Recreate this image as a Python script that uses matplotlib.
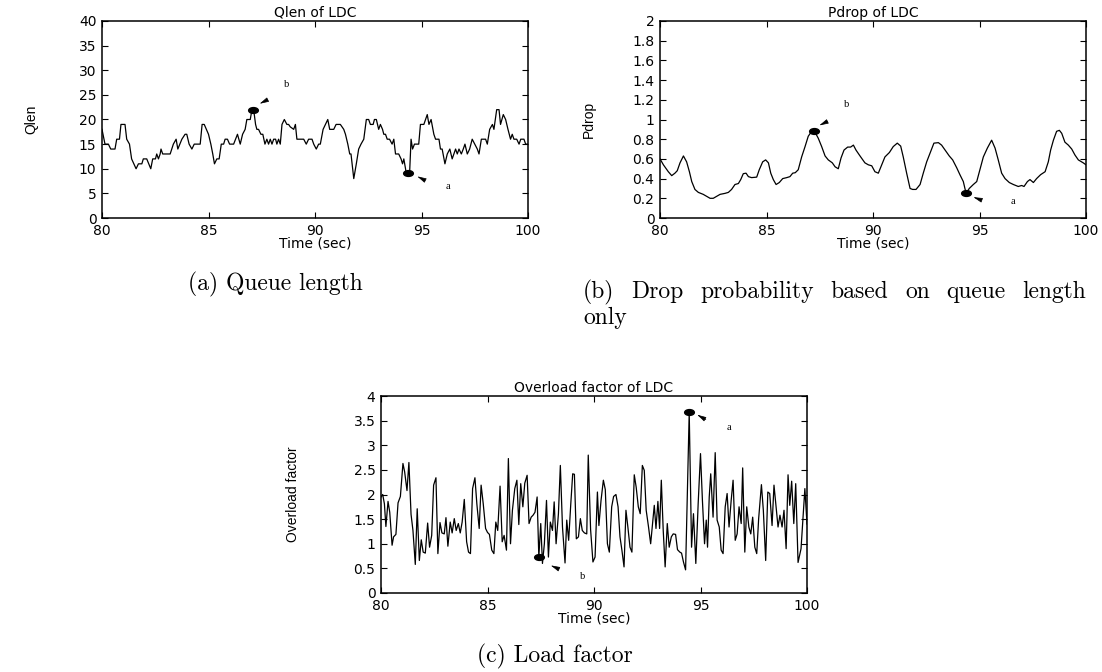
import matplotlib
matplotlib.use("Agg")
import matplotlib.pyplot as plt
from matplotlib.path import Path

# ---------------- data ----------------
qlen_t = [80.00, 80.14, 80.30, 80.41, 80.61, 80.69, 80.82, 80.89, 81.08, 81.16,
          81.29, 81.39, 81.60, 81.71, 81.87, 81.94, 82.10, 82.29, 82.38, 82.51,
          82.57, 82.65, 82.73, 82.77, 82.85, 83.20, 83.35, 83.48, 83.56, 83.75,
          83.90, 83.98, 84.09, 84.22, 84.33, 84.61, 84.70, 84.80, 85.00, 85.11,
          85.20, 85.28, 85.39, 85.50, 85.60, 85.71, 85.78, 85.89, 85.99, 86.18,
          86.27, 86.36, 86.49, 86.60, 86.72, 86.80, 86.96, 87.04, 87.12, 87.21,
          87.27, 87.35, 87.46, 87.55, 87.65, 87.74, 87.82, 87.90, 87.98, 88.06,
          88.15, 88.21, 88.29, 88.37, 88.45, 88.56, 88.68, 88.76, 88.84, 89.00,
          89.08, 89.15, 89.31, 89.47, 89.59, 89.70, 89.86, 89.94, 90.06, 90.17,
          90.25, 90.38, 90.49, 90.60, 90.69, 90.88, 90.99, 91.19, 91.35, 91.43,
          91.54, 91.63, 91.69, 91.82, 91.94, 92.05, 92.16, 92.29, 92.41, 92.52,
          92.60, 92.73, 92.79, 92.88, 92.99, 93.07, 93.17, 93.23, 93.31, 93.39,
          93.50, 93.62, 93.70, 93.78, 93.93, 94.04, 94.11, 94.17, 94.25, 94.29,
          94.44, 94.51, 94.58, 94.67, 94.87, 94.95, 95.11, 95.27, 95.35, 95.45,
          95.58, 95.66, 95.82, 95.89, 95.97, 96.10, 96.21, 96.33, 96.44, 96.60,
          96.68, 96.76, 96.87, 96.96, 97.04, 97.15, 97.26, 97.38, 97.62, 97.70,
          97.81, 98.01, 98.09, 98.20, 98.33, 98.40, 98.53, 98.64, 98.71, 98.84,
          98.95, 99.06, 99.18, 99.26, 99.34, 99.47, 99.58, 99.66, 99.81, 99.89, 100.00]
qlen_v = [18, 15, 15, 14, 14, 16, 16, 19, 19, 16,
          15, 12, 10, 11, 11, 12, 12, 10, 12, 12,
          13, 12, 13, 14, 13, 13, 15, 16, 14, 16,
          17, 17, 15, 14, 15, 15, 19, 19, 17, 15,
          13, 11, 12, 12, 15, 15, 16, 16, 15, 15,
          16, 17, 15, 17, 18, 20, 20, 22, 22, 19,
          18, 18, 17, 17, 15, 16, 15, 16, 15, 16,
          16, 15, 16, 15, 19, 20, 19, 19, 18.5, 18,
          19, 16, 16, 16, 15, 16, 16, 15, 14, 15,
          15, 18, 19, 20, 18, 18, 19, 19, 18, 17,
          15, 13, 13, 8, 11, 14, 15, 16, 20, 20,
          19, 19, 20, 20, 18, 19, 18, 17, 17, 16,
          16, 15, 16, 13, 13, 12, 11, 12, 10, 9,
          9, 16, 14, 15, 15, 19, 19, 21, 19, 20,
          17, 16, 16, 14, 14, 11, 13, 14, 12, 14,
          13, 14, 13, 14, 15, 13, 14, 16, 14, 13,
          16, 16, 15, 18, 19, 18, 22, 22, 19, 21,
          20, 18, 16, 17, 16, 16, 15, 16, 16, 15, 15]

pdrop_t = [80.00, 80.16, 80.39, 80.55, 80.70, 80.81, 80.94, 81.10, 81.25, 81.38,
           81.49, 81.64, 81.80, 82.03, 82.19, 82.35, 82.50, 82.66, 82.82, 83.05,
           83.21, 83.36, 83.52, 83.68, 83.79, 83.91, 84.04, 84.15, 84.30, 84.54,
           84.66, 84.82, 84.96, 85.09, 85.20, 85.32, 85.45, 85.60, 85.76, 85.95,
           86.10, 86.23, 86.35, 86.49, 86.65, 86.81, 86.96, 87.12, 87.28, 87.43,
           87.59, 87.75, 87.90, 88.09, 88.22, 88.37, 88.50, 88.64, 88.81, 88.95,
           89.08, 89.20, 89.39, 89.62, 89.78, 89.94, 90.09, 90.25, 90.41, 90.56,
           90.77, 90.95, 91.14, 91.30, 91.42, 91.58, 91.74, 91.86, 92.02, 92.21,
           92.36, 92.52, 92.71, 92.86, 93.07, 93.22, 93.43, 93.58, 93.74, 93.93,
           94.08, 94.24, 94.37, 94.52, 94.71, 94.87, 95.02, 95.18, 95.37, 95.57,
           95.73, 95.88, 96.04, 96.20, 96.40, 96.59, 96.82, 96.98, 97.09, 97.25,
           97.37, 97.53, 97.68, 97.87, 98.08, 98.23, 98.34, 98.47, 98.62, 98.75,
           98.86, 99.01, 99.17, 99.33, 99.48, 99.64, 99.87, 100.00]
pdrop_v = [0.60, 0.54, 0.47, 0.43, 0.455, 0.48, 0.56, 0.63, 0.57, 0.47,
           0.37, 0.29, 0.26, 0.24, 0.22, 0.20, 0.20, 0.22, 0.24, 0.25,
           0.26, 0.29, 0.34, 0.35, 0.39, 0.45, 0.455, 0.42, 0.41, 0.415,
           0.49, 0.57, 0.59, 0.56, 0.455, 0.39, 0.34, 0.36, 0.40, 0.41,
           0.42, 0.455, 0.46, 0.49, 0.62, 0.725, 0.83, 0.88, 0.87, 0.81,
           0.725, 0.63, 0.59, 0.56, 0.52, 0.50, 0.61, 0.69, 0.72, 0.72,
           0.74, 0.69, 0.63, 0.56, 0.54, 0.53, 0.47, 0.455, 0.54, 0.62,
           0.665, 0.725, 0.76, 0.73, 0.62, 0.455, 0.30, 0.29, 0.29, 0.34,
           0.455, 0.57, 0.675, 0.76, 0.765, 0.74, 0.675, 0.63, 0.59, 0.51,
           0.44, 0.37, 0.25, 0.30, 0.34, 0.37, 0.49, 0.62, 0.71, 0.79,
           0.71, 0.59, 0.455, 0.40, 0.36, 0.34, 0.32, 0.33, 0.32, 0.37,
           0.39, 0.36, 0.40, 0.44, 0.47, 0.57, 0.69, 0.79, 0.88, 0.89,
           0.86, 0.77, 0.74, 0.70, 0.64, 0.59, 0.56, 0.54]

over_t = [80.00, 80.08, 80.16, 80.23, 80.33, 80.41, 80.52, 80.59, 80.70, 80.80,
          80.91, 81.03, 81.11, 81.22, 81.31, 81.41, 81.50, 81.61, 81.70, 81.80,
          81.89, 81.98, 82.08, 82.19, 82.28, 82.38, 82.47, 82.58, 82.67, 82.77,
          82.86, 82.97, 83.05, 83.14, 83.25, 83.34, 83.44, 83.53, 83.63, 83.72,
          83.81, 83.91, 84.02, 84.11, 84.20, 84.30, 84.41, 84.50, 84.61, 84.70,
          84.80, 84.91, 85.00, 85.09, 85.20, 85.30, 85.39, 85.48, 85.59, 85.69,
          85.78, 85.89, 85.98, 86.08, 86.17, 86.28, 86.38, 86.47, 86.56, 86.66,
          86.75, 86.86, 86.95, 87.05, 87.14, 87.23, 87.33, 87.41, 87.50, 87.58,
          87.67, 87.77, 87.86, 87.95, 88.05, 88.13, 88.22, 88.33, 88.42, 88.52,
          88.64, 88.72, 88.81, 88.91, 89.00, 89.08, 89.17, 89.27, 89.36, 89.45,
          89.55, 89.66, 89.73, 89.84, 89.95, 90.05, 90.16, 90.23, 90.33, 90.44,
          90.53, 90.63, 90.72, 90.83, 90.92, 91.03, 91.13, 91.22, 91.31, 91.41,
          91.50, 91.59, 91.69, 91.78, 91.89, 91.98, 92.08, 92.17, 92.27, 92.36,
          92.45, 92.56, 92.66, 92.75, 92.83, 92.91, 93.00, 93.08, 93.16, 93.25,
          93.34, 93.44, 93.53, 93.63, 93.72, 93.83, 93.92, 94.03, 94.11, 94.20,
          94.30, 94.47, 94.58, 94.67, 94.78, 94.89, 95.00, 95.09, 95.19, 95.27,
          95.33, 95.41, 95.48, 95.59, 95.69, 95.78, 95.88, 95.97, 96.06, 96.16,
          96.25, 96.34, 96.44, 96.53, 96.63, 96.72, 96.81, 96.91, 96.98, 97.08,
          97.17, 97.27, 97.36, 97.45, 97.55, 97.64, 97.73, 97.86, 97.95, 98.06,
          98.16, 98.25, 98.36, 98.45, 98.55, 98.64, 98.73, 98.83, 98.92, 99.02,
          99.11, 99.19, 99.28, 99.38, 99.47, 99.58, 99.72, 99.90, 100.00]
over_v = [1.95, 2.00, 1.81, 1.35, 1.86, 1.64, 0.97, 1.14, 1.19, 1.83,
          1.96, 2.63, 2.46, 2.08, 2.65, 1.60, 1.27, 0.58, 1.71, 0.66,
          1.08, 0.83, 0.81, 1.42, 0.93, 1.17, 2.19, 2.34, 0.80, 1.43,
          1.22, 1.20, 1.53, 0.95, 1.44, 1.22, 1.51, 1.27, 1.41, 1.22,
          1.44, 1.90, 1.04, 0.83, 0.80, 2.12, 2.34, 1.81, 1.31, 2.19,
          1.81, 1.31, 1.23, 1.19, 0.87, 0.80, 1.44, 1.27, 2.17, 1.04,
          1.17, 0.87, 2.73, 1.00, 1.68, 2.12, 2.29, 1.39, 2.22, 1.75,
          2.23, 2.39, 1.41, 1.54, 1.58, 1.64, 1.95, 0.73, 1.41, 0.60,
          1.00, 1.88, 0.73, 1.44, 1.27, 1.85, 1.00, 1.61, 2.59, 1.34,
          0.61, 1.48, 1.07, 1.81, 2.42, 2.41, 1.10, 1.14, 1.51, 1.27,
          1.22, 1.20, 2.80, 1.29, 0.63, 0.73, 2.05, 1.37, 1.88, 2.29,
          2.10, 1.00, 0.83, 1.75, 1.96, 2.00, 1.75, 1.14, 0.87, 0.53,
          1.68, 1.34, 0.93, 0.83, 2.40, 2.15, 1.75, 1.61, 2.59, 2.49,
          1.68, 1.34, 1.00, 1.41, 1.78, 1.31, 1.86, 1.31, 2.29, 1.27,
          0.53, 1.41, 0.93, 1.14, 1.20, 1.19, 0.88, 0.83, 0.81, 0.63,
          0.47, 3.67, 0.93, 1.61, 0.60, 1.81, 2.83, 1.88, 1.00, 1.48,
          0.93, 1.95, 2.42, 1.54, 2.85, 1.48, 1.34, 0.87, 0.80, 1.75,
          2.02, 1.34, 1.88, 2.29, 1.07, 1.20, 1.75, 1.41, 2.54, 0.83,
          1.75, 1.34, 1.20, 1.54, 0.93, 0.80, 1.51, 2.20, 1.68, 0.66,
          2.05, 2.02, 1.37, 2.19, 1.75, 1.34, 1.58, 1.34, 1.68, 0.90,
          2.40, 1.78, 2.27, 1.41, 2.22, 0.62, 0.90, 2.12, 1.40]

# labelled points: (marked point, arrow tip, arrow tail, letter position)
qlen_marks = {"b": [(87.10, 22.0), (87.40, 23.2), (87.77, 24.0), (88.68, 27.2)],
              "a": [(94.36, 9.2), (94.80, 8.45), (95.14, 7.7), (96.24, 6.3)]}
pdrop_marks = {"b": [(87.21, 0.884), (87.48, 0.94), (87.86, 0.98), (88.76, 1.15)],
               "a": [(94.37, 0.253), (94.71, 0.212), (95.05, 0.185), (96.56, 0.17)]}
over_marks = {"a": [(94.45, 3.67), (94.84, 3.62), (95.25, 3.52), (96.34, 3.37)],
              "b": [(87.41, 0.73), (87.97, 0.56), (88.33, 0.49), (89.44, 0.34)]}

W, H = 1102, 672
SANS = "DejaVu Sans"
NARROW = ["Liberation Sans Narrow", "Liberation Sans"]

# flat ellipse marker (gnuplot-ish dot)
_c = Path.unit_circle()
ELLIPSE = Path(_c.vertices * [1.0, 0.6], _c.codes)

fig = plt.figure(figsize=(W / 100, H / 100), dpi=100)


def panel(px_left, px_top, ylim, yticks, ylabel, ylabel_x, title):
    ax = fig.add_axes([px_left / W, 1 - (px_top + 197) / H, 426 / W, 197 / H])
    ax.set_xlim(80, 100)
    ax.set_ylim(*ylim)
    ax.set_xticks([80, 85, 90, 95, 100])
    ax.set_yticks(yticks)
    ax.set_yticklabels([f"{v:g}" for v in yticks])
    ax.tick_params(direction="in", length=4, width=0.8, top=True, right=True,
                   labelsize=10, pad=4)
    for lab in ax.get_xticklabels() + ax.get_yticklabels():
        lab.set_family(SANS)
    for s in ax.spines.values():
        s.set_linewidth(1.1)
    ax.set_xlabel("Time (sec)", fontsize=10, family=SANS, labelpad=-1)
    ax.set_ylabel(ylabel, fontsize=10, family=NARROW)
    ax.yaxis.set_label_coords(ylabel_x, 0.5)
    ax.set_title(title, fontsize=10, family=SANS, pad=3)
    return ax


def mark(ax, marks):
    for letter, (pt, tip, tail, lab) in marks.items():
        ax.plot([pt[0]], [pt[1]], marker=ELLIPSE, ms=7, color="black", ls="none")
        ax.annotate("", xy=tip, xytext=tail,
                    arrowprops=dict(arrowstyle="-|>,head_length=0.55,head_width=0.14",
                                    color="black", lw=0.5, shrinkA=0, shrinkB=0))
        ax.text(lab[0], lab[1], letter, fontsize=7.5, family="Liberation Serif",
                ha="center", va="center")


ax_a = panel(102, 21, (0, 40), list(range(0, 41, 5)), "Qlen", -0.15, "Qlen of LDC")
ax_a.plot(qlen_t, qlen_v, color="black", lw=0.9)
mark(ax_a, qlen_marks)

ax_b = panel(660, 21, (0, 2), [0, 0.2, 0.4, 0.6, 0.8, 1, 1.2, 1.4, 1.6, 1.8, 2],
             "Pdrop", -0.15, "Pdrop of LDC")
ax_b.plot(pdrop_t, pdrop_v, color="black", lw=0.9)
mark(ax_b, pdrop_marks)

ax_c = panel(381, 396, (0, 4), [0, 0.5, 1, 1.5, 2, 2.5, 3, 3.5, 4],
             "Overload factor", -0.19, "Overload factor of LDC")
ax_c.plot(over_t, over_v, color="black", lw=0.9)
mark(ax_c, over_marks)

# ---------------- captions (LaTeX-like serif) ----------------
CAP = dict(family="cmr10", fontsize=17, va="center")
fig.text(275 / W, 1 - 284 / H, "(a) Queue length", ha="center", **CAP)
fig.text(555 / W, 1 - 656 / H, "(c) Load factor", ha="center", **CAP)

# justified first line of caption (b)
r = fig.canvas.get_renderer()
words = "(b) Drop probability based on queue length".split()
left_px, right_px = 583, 1086
texts = [fig.text(0, 1 - 292 / H, w, ha="left", **CAP) for w in words]
widths = [t.get_window_extent(r).width for t in texts]
gap = (right_px - left_px - sum(widths)) / (len(words) - 1)
x = left_px
for t, w in zip(texts, widths):
    t.set_x(x / W)
    x += w + gap
fig.text(left_px / W, 1 - 318 / H, "only", ha="left", **CAP)

fig.savefig("out.png", dpi=100)
